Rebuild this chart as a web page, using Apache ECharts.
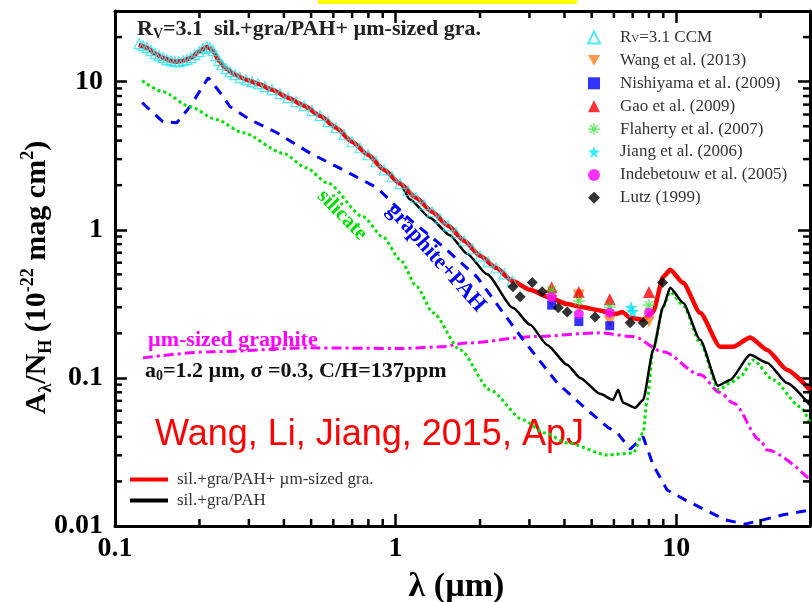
<!DOCTYPE html>
<html><head><meta charset="utf-8">
<script src="https://cdn.jsdelivr.net/npm/echarts/dist/echarts.min.js"></script>
<style>html,body{margin:0;padding:0;background:#fff}#c{width:812px;height:602px}</style>
</head><body><div id="c"></div>
<script>
// ---- axis extents and ticks ----
const X_MIN = 0.1, X_MAX = 30, Y_MIN = 0.01, Y_MAX = 30;
const xMinorTicks = [0.2,0.3,0.4,0.5,0.6,0.7,0.8,0.9,2,3,4,5,6,7,8,9,20];
const yMinorTicks = [0.02,0.03,0.04,0.05,0.06,0.07,0.08,0.09,0.2,0.3,0.4,0.5,0.6,0.7,0.8,0.9,2,3,4,5,6,7,8,9,20];
const majorLabels = {'-2':'0.01','-1':'0.1','0':'1','1':'10'};

// ---- R_V=3.1 CCM curve (open cyan triangles) ----
const ccmLam = [0.1218,0.1258,0.1300,0.1344,0.1389,0.1435,0.1483,0.1532,0.1583,0.1636,0.1690,0.1747,0.1805,0.1865,0.1927,0.1992,0.2058,0.2127,0.2180,0.2235,0.2291,0.2348,0.2407,0.2487,0.2570,0.2678,0.2790,0.2931,0.3079,0.3235,0.3425,0.3628,0.3875,0.4138,0.4418,0.4718,0.5039,0.5380,0.5745,0.6135,0.6551,0.6996,0.7470,0.7977,0.8519,0.9099,0.9717,1.0376,1.1080,1.1833,1.2637,1.3495,1.4411,1.5390,1.6435,1.7551,1.8743,2.0016,2.1375,2.2826,2.4376,2.6031];
const ccmA = [18.06,17.51,16.97,16.20,15.46,14.99,14.53,14.08,13.86,13.65,13.65,13.86,14.08,14.53,15.22,15.95,16.71,17.24,16.97,16.20,14.99,13.86,13.03,12.24,11.68,11.15,10.64,10.32,10.0,9.69,9.25,8.83,8.30,7.80,7.33,6.88,6.37,5.89,5.37,4.89,4.38,3.93,3.58,3.21,2.88,2.54,2.28,2.05,1.835,1.645,1.476,1.323,1.187,1.064,0.954,0.843,0.744,0.667,0.608,0.554,0.504,0.452];

// ---- model: sil.+gra/PAH+ um-sized gra. (red) ----
const redLam = [0.1218,0.130,0.139,0.148,0.158,0.164,0.175,0.187,0.199,0.2127,0.2235,0.2348,0.2487,0.2678,0.2931,0.3235,0.3628,0.4138,0.4718,0.538,0.6135,0.6996,0.7977,0.9099,1.0376,1.1833,1.3495,1.5390,1.7551,2.0016,2.2826,2.6031,3.02,3.47,4.09,4.55,5.36,5.96,6.2,6.42,6.86,7.63,8.28,8.99,9.52,10.59,12.18,14.35,15.96,18.36,21.1,24.87,30];
const redA = [17.7,16.97,15.46,14.53,13.86,13.65,13.86,14.53,15.95,17.24,16.20,13.86,12.24,11.15,10.32,9.69,8.83,7.80,6.88,5.89,4.89,3.93,3.21,2.54,2.05,1.645,1.323,1.064,0.843,0.667,0.554,0.452,0.393,0.353,0.315,0.302,0.285,0.270,0.272,0.279,0.2545,0.2465,0.279,0.481,0.537,0.4385,0.275,0.162,0.162,0.1875,0.1545,0.1132,0.083];

// ---- model: sil.+gra/PAH (black) ----
const blkLam = [0.1218,0.130,0.139,0.148,0.158,0.164,0.175,0.187,0.199,0.2127,0.2235,0.2348,0.2487,0.2678,0.2931,0.3235,0.3628,0.4138,0.4718,0.538,0.6135,0.6996,0.7977,0.9099,1.0376,1.126,1.33,1.56,1.80,2.12,2.62,3.02,3.47,4.09,4.55,5.36,5.96,6.21,6.47,7.14,7.63,8.28,8.99,9.52,10.59,12.18,14.11,15.58,18.36,21.1,24.87,30];
const blkA = [17.7,16.97,15.46,14.53,13.86,13.65,13.86,14.53,15.95,17.24,16.20,13.86,12.24,11.15,10.32,9.69,8.83,7.80,6.88,5.89,4.89,3.93,3.21,2.54,2.05,1.6,1.2,0.92,0.69,0.50,0.297,0.228,0.167,0.1225,0.100,0.078,0.071,0.083,0.068,0.0628,0.071,0.1545,0.302,0.406,0.321,0.1806,0.0886,0.0969,0.1431,0.1264,0.0924,0.0653];

// ---- silicate (green dotted) ----
const silLam = [0.125,0.148,0.185,0.23,0.286,0.397,0.48,0.570,0.766,0.90,1.04,1.19,1.36,1.70,2.17,2.85,3.4,4.09,5.68,7.03,7.63,7.88,8.28,8.99,9.52,10.59,12.18,14.2,15.58,16.91,18.8,22.2,27.7,30];
const silA = [10.15,8.56,6.78,5.54,4.52,3.29,2.62,2.08,1.224,0.897,0.627,0.412,0.275,0.1545,0.083,0.052,0.0425,0.0364,0.0302,0.0311,0.0425,0.071,0.1545,0.302,0.381,0.31,0.172,0.083,0.0924,0.1016,0.1323,0.0969,0.0638,0.0497];

// ---- graphite+PAH (blue dashed) ----
const graLam = [0.125,0.148,0.166,0.185,0.215,0.237,0.257,0.303,0.378,0.496,0.65,0.859,1.126,1.48,1.95,2.42,2.85,3.77,4.82,5.68,6.21,6.86,7.63,8.28,9.29,10.77,14.95,17.6,20.4,24.06,30];
const graA = [7.21,5.37,5.28,6.78,10.64,8.43,6.78,5.54,4.52,3.29,2.54,1.92,1.17,0.768,0.481,0.275,0.1806,0.0924,0.0608,0.0467,0.042,0.033,0.040,0.0258,0.0175,0.015,0.011,0.0103,0.011,0.0119,0.0128];

// ---- um-sized graphite (magenta dash-dot) ----
const umLam = [0.1258,0.218,0.496,1.04,1.44,1.80,3.09,5.36,7.03,8.99,12.18,14.35,15.96,19.93,21.1,30];
const umA = [0.1365,0.150,0.1595,0.158,0.162,0.172,0.190,0.2014,0.19,0.15,0.105,0.0796,0.0678,0.0381,0.0326,0.0205];

// ---- observations ----
const wangLam = [3.6,4.5,5.8,8.0];            const wangA = [0.33,0.36,0.24,0.24];
const nishLam = [3.6,4.5,5.8];                const nishA = [0.31,0.24,0.225];
const gaoLam = [3.6,4.5,5.8,8.0];             const gaoA = [0.41,0.38,0.34,0.38];
const flahLam = [3.6,4.5,5.8,8.0];            const flahA = [0.39,0.33,0.30,0.31];
const jiangLam = [6.9,7.0];                   const jiangA = [0.30,0.28];
const indeLam = [3.6,4.5,5.8,8.0];            const indeA = [0.35,0.27,0.275,0.275];
const lutzLam = [2.62,2.78,3.07,3.33,3.8,4.09,5.14,6.86,7.63,8.95];
const lutzA = [0.412,0.353,0.44,0.381,0.297,0.279,0.258,0.2355,0.2355,0.44];

const zip = (a, b) => a.map((v, i) => [v, b[i]]);
const F = 'Liberation Serif';
const ASTER = 'path://M9,0h2v20h-2z M0,9h20v2h-20z M2.3,3.7L3.7,2.3L17.7,16.3L16.3,17.7z M16.3,2.3L17.7,3.7L3.7,17.7L2.3,16.3z';
const STAR = 'path://M10,0L12.35,7.24L19.51,7.24L13.58,11.71L15.88,19L10,14.5L4.12,19L6.42,11.71L0.49,7.24L7.65,7.24Z';
const DOWNTRI = 'path://M0,0L20,0L10,18Z';

function fmt(v){
  const e = Math.log10(v), r = Math.round(e);
  return Math.abs(e - r) < 1e-6 && majorLabels[String(r)] ? majorLabels[String(r)] : '';
}
const TL = 7;
function xTickRender(p, api){
  const v = api.value(0);
  const b = api.coord([v, Y_MIN]), t = api.coord([v, Y_MAX]);
  return {type:'group', children:[
    {type:'line', shape:{x1:b[0],y1:b[1],x2:b[0],y2:b[1]-TL}, style:{stroke:'#000',lineWidth:2.5}},
    {type:'line', shape:{x1:t[0],y1:t[1],x2:t[0],y2:t[1]+TL}, style:{stroke:'#000',lineWidth:2.5}}
  ]};
}
function yTickRender(p, api){
  const v = api.value(1);
  const l = api.coord([X_MIN, v]), r = api.coord([X_MAX, v]);
  return {type:'group', children:[
    {type:'line', shape:{x1:l[0],y1:l[1],x2:l[0]+TL,y2:l[1]}, style:{stroke:'#000',lineWidth:2.5}},
    {type:'line', shape:{x1:r[0],y1:r[1],x2:r[0]-TL,y2:r[1]}, style:{stroke:'#000',lineWidth:2.5}}
  ]};
}

const axisLineStyle = {color:'#000', width:3};
const tickStyle = {show:true, inside:true, length:12, lineStyle:{color:'#000', width:2.5}};
const sc = (name, lam, a, symbol, size, color) => ({
  name, type:'scatter', data: zip(lam, a), symbol, symbolSize:size,
  itemStyle:{color}, z:6
});

const chart = echarts.init(document.getElementById('c'), null, {renderer:'canvas'});
chart.setOption({
  animation:false,
  backgroundColor:'#fff',
  grid:{left:115, right:2, top:11, bottom:76, containLabel:false, outerBoundsMode:'none'},
  xAxis:[
    {type:'log', logBase:10, min:X_MIN, max:X_MAX, position:'bottom',
     axisLine:{show:true, onZero:false, lineStyle:axisLineStyle}, axisTick:tickStyle,
     axisLabel:{fontFamily:F, fontWeight:'bold', fontSize:28, color:'#000', margin:9, formatter:fmt},
     splitLine:{show:false}, minorTick:{show:false},
     name:'λ (µm)', nameLocation:'middle', nameGap:44, nameMoveOverlap:false,
     nameTextStyle:{fontFamily:F, fontWeight:'bold', fontSize:34, color:'#000', padding:[0,12,0,0]}},
    {type:'log', logBase:10, min:X_MIN, max:X_MAX, position:'top',
     axisLine:{show:true, onZero:false, lineStyle:axisLineStyle}, axisTick:tickStyle,
     axisLabel:{show:false}, splitLine:{show:false}}
  ],
  yAxis:[
    {type:'log', logBase:10, min:Y_MIN, max:Y_MAX, position:'left',
     axisLine:{show:true, onZero:false, lineStyle:axisLineStyle}, axisTick:tickStyle,
     axisLabel:{fontFamily:F, fontWeight:'bold', fontSize:28, color:'#000', margin:12, formatter:fmt},
     splitLine:{show:false},
     name:'{a|A}{s|λ}{a|/N}{s|H}{a| (10}{p|-22}{a| mag cm}{p|2}{a|)}',
     nameLocation:'middle', nameGap:60, nameRotate:90, nameMoveOverlap:false,
     nameTextStyle:{fontFamily:F, fontWeight:'bold', fontSize:30, color:'#000', padding:[0,18,0,0],
       rich:{a:{fontFamily:F, fontWeight:'bold', fontSize:30, color:'#000', lineHeight:36},
             s:{fontFamily:F, fontWeight:'bold', fontSize:18, color:'#000', lineHeight:18, verticalAlign:'bottom'},
             p:{fontFamily:F, fontWeight:'bold', fontSize:18, color:'#000', lineHeight:18, verticalAlign:'top'}}}},
    {type:'log', logBase:10, min:Y_MIN, max:Y_MAX, position:'right',
     axisLine:{show:true, onZero:false, lineStyle:axisLineStyle}, axisTick:tickStyle,
     axisLabel:{show:false}, splitLine:{show:false}}
  ],
  legend:[
    {data:['R_V=3.1 CCM','Wang et al. (2013)','Nishiyama et al. (2009)','Gao et al. (2009)','Flaherty et al. (2007)','Jiang et al. (2006)','Indebetouw et al. (2005)','Lutz (1999)'],
     orient:'vertical', left:582, top:24, itemWidth:12, itemHeight:12, itemGap:5.9, selectedMode:false,
     formatter: n => n === 'R_V=3.1 CCM' ? '{t|R}{s|V}{t|=3.1 CCM}' : n,
     textStyle:{fontFamily:F, fontSize:17, color:'#333', lineHeight:14, padding:[0,0,0,15],
       rich:{t:{fontFamily:F, fontSize:17, color:'#333', lineHeight:14},
             s:{fontFamily:F, fontSize:11, color:'#333', lineHeight:8, verticalAlign:'bottom'}}}},
    {data:[{name:'sil.+gra/PAH+ µm-sized gra.', icon:'rect'}, {name:'sil.+gra/PAH', icon:'rect'}],
     orient:'vertical', left:125, top:466, itemWidth:38, itemHeight:4, itemGap:4, selectedMode:false,
     textStyle:{fontFamily:F, fontSize:17, color:'#333', lineHeight:17, padding:[0,0,0,4]}}
  ],
  graphic:[
    {type:'rect', shape:{x:318, y:0, width:259, height:4}, style:{fill:'#ffff00'}},
    {type:'text', x:137, y:29, style:{text:'{b|R}{v|V}{b|=3.1  sil.+gra/PAH+ µm-sized gra.}', verticalAlign:'middle',
      rich:{b:{font:'bold 22px "Liberation Serif"', fill:'#222', lineHeight:24},
            v:{font:'bold 14px "Liberation Serif"', fill:'#222', lineHeight:10, verticalAlign:'bottom'}}}},
    {type:'text', x:342, y:215, rotation:-0.79, style:{text:'silicate', align:'center', verticalAlign:'middle',
      font:'bold 21px "Liberation Serif"', fill:'#00e000'}},
    {type:'text', x:436, y:258, rotation:-0.84, style:{text:'graphite+PAH', align:'center', verticalAlign:'middle',
      font:'bold 22px "Liberation Serif"', fill:'#0000ff'}},
    {type:'text', x:148, y:340, style:{text:'µm-sized graphite', verticalAlign:'middle',
      font:'bold 22px "Liberation Serif"', fill:'#ff00ff'}},
    {type:'text', x:145, y:371, style:{text:'{b|a}{v|0}{b|=1.2 µm, σ =0.3, C/H=137ppm}', verticalAlign:'middle',
      rich:{b:{font:'bold 22px "Liberation Serif"', fill:'#111', lineHeight:24},
            v:{font:'bold 14px "Liberation Serif"', fill:'#111', lineHeight:10, verticalAlign:'bottom'}}}},
    {type:'text', x:155, y:435, style:{text:'Wang, Li, Jiang, 2015, ApJ', verticalAlign:'middle',
      font:'36px "Liberation Sans"', fill:'#ff0000'}}
  ],
  series:[
    {type:'custom', silent:true, renderItem:xTickRender, data: xMinorTicks.map(v => [v, Y_MIN]), z:10},
    {type:'custom', silent:true, renderItem:yTickRender, data: yMinorTicks.map(v => [X_MIN, v]), z:10},
    {name:'µm-sized graphite', type:'line', data:zip(umLam, umA), showSymbol:false, smooth:0.3, smoothMonotone:'x',
     lineStyle:{color:'#ff00ff', width:3, type:[10,4,3,4]}, z:2},
    {name:'graphite+PAH', type:'line', data:zip(graLam, graA), showSymbol:false,
     lineStyle:{color:'#0000ff', width:3, type:[10,8]}, z:2},
    {name:'silicate', type:'line', data:zip(silLam, silA), showSymbol:false, smooth:0.25, smoothMonotone:'x',
     lineStyle:{color:'#00e000', width:3, type:[3,3]}, z:2},
    {name:'sil.+gra/PAH', type:'line', data:zip(blkLam, blkA), showSymbol:false, smooth:0.2, smoothMonotone:'x',
     color:'#000', itemStyle:{color:'#000'}, lineStyle:{color:'#000', width:2.5}, z:3},
    {name:'sil.+gra/PAH+ µm-sized gra.', type:'line', data:zip(redLam, redA), showSymbol:false, smooth:0.2, smoothMonotone:'x',
     color:'#ff0000', itemStyle:{color:'#ff0000'}, lineStyle:{color:'#ff0000', width:4.5}, z:4},
    {name:'R_V=3.1 CCM', type:'scatter', data:zip(ccmLam, ccmA), symbol:'triangle', symbolSize:10,
     itemStyle:{color:'rgba(0,0,0,0)', borderColor:'#22e6f0', borderWidth:1.2}, z:5},
    sc('Wang et al. (2013)', wangLam, wangA, DOWNTRI, 12, '#ff7f1e'),
    sc('Nishiyama et al. (2009)', nishLam, nishA, 'rect', 9, '#0000ff'),
    sc('Gao et al. (2009)', gaoLam, gaoA, 'triangle', 12, '#ff0000'),
    sc('Flaherty et al. (2007)', flahLam, flahA, ASTER, 12, '#33dd33'),
    sc('Jiang et al. (2006)', jiangLam, jiangA, STAR, 13, '#00e5ff'),
    sc('Indebetouw et al. (2005)', indeLam, indeA, 'circle', 10, '#ff00ff'),
    sc('Lutz (1999)', lutzLam, lutzA, 'diamond', 11, '#000')
  ]
});
</script></body></html>
